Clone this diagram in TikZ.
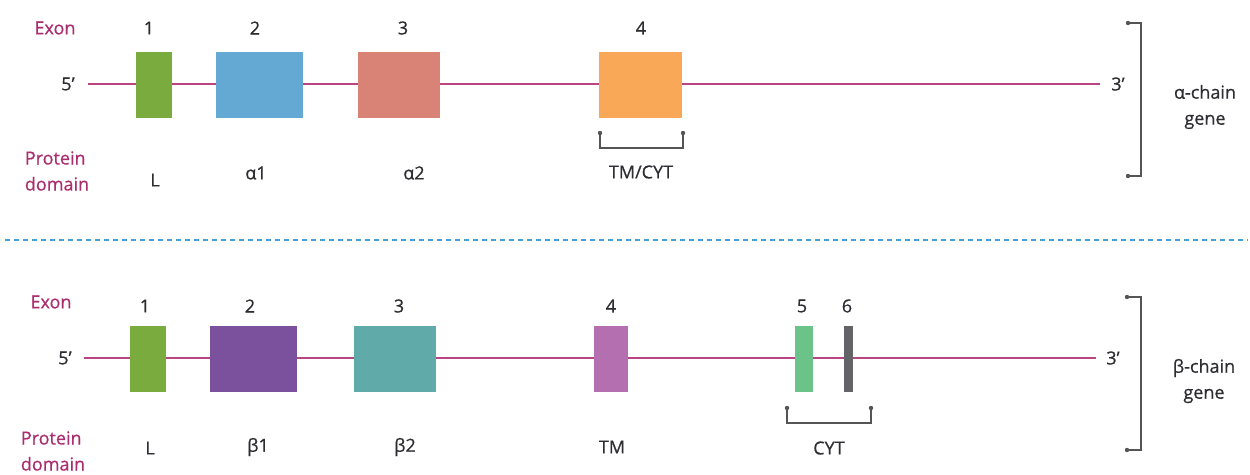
\documentclass[tikz,border=0pt]{standalone}
\usepackage{fontspec}
\setmainfont{Open Sans}[FakeBold=0.6]
\usetikzlibrary{arrows.meta}
\definecolor{mag}{RGB}{170,45,110}
\definecolor{gline}{RGB}{185,70,130}
\definecolor{txt}{RGB}{45,45,50}
\definecolor{brk}{RGB}{85,85,85}
\definecolor{sepblue}{RGB}{70,160,215}
\definecolor{cA}{RGB}{122,171,62}
\definecolor{cB}{RGB}{99,169,211}
\definecolor{cC}{RGB}{216,131,118}
\definecolor{cD}{RGB}{248,168,87}
\definecolor{cE}{RGB}{123,81,158}
\definecolor{cF}{RGB}{96,171,170}
\definecolor{cG}{RGB}{179,111,176}
\definecolor{cH}{RGB}{107,195,137}
\definecolor{cI}{RGB}{100,100,104}
\tikzset{
  lbl/.style={font=\fontsize{18}{21}\selectfont, text=txt, inner sep=0pt},
  mlbl/.style={font=\fontsize{18}{26}\selectfont, text=mag, inner sep=0pt, align=left},
  glbl/.style={font=\fontsize{18}{26}\selectfont, text=txt, inner sep=0pt, align=center},
  exonbox/.style={inner sep=0pt, minimum height=66pt},
  gene/.style={draw=gline, line width=2.4pt},
  brack/.style={draw=brk, line width=1.8pt},
  enddot/.style={fill=brk},
  sepline/.style={draw=sepblue, line width=1.6pt, dash pattern=on 5pt off 4pt},
}
\begin{document}
\begin{tikzpicture}[x=1pt,y=-1pt]
\useasboundingbox (0,0) rectangle (1250,474);
% ---------- alpha chain ----------
\node[mlbl] (exA) at (55,28) {Exon};
\node[mlbl] (pdA) at (57,171) {Protein\\domain};
\node[lbl] (fA) at (68,84) {5’};
\node[lbl] (tA) at (1118,84) {3’};
\coordinate (aL) at (88,84);
\coordinate (aR) at (1100,84);
\draw[gene] (aL) -- (aR);
\node[exonbox, fill=cA, minimum width=36pt] (a1) at (154,85) {};
\node[exonbox, fill=cB, minimum width=87pt] (a2) at (259.5,85) {};
\node[exonbox, fill=cC, minimum width=82pt] (a3) at (399,85) {};
\node[exonbox, fill=cD, minimum width=83pt] (a4) at (640.5,85) {};
\node[lbl] (na1) at (149,28) {1};
\node[lbl] (na2) at (255,28) {2};
\node[lbl] (na3) at (403,28) {3};
\node[lbl] (na4) at (641,28) {4};
\node[lbl] (da1) at (155,180) {L};
\node[lbl] (da2) at (256,173) {α1};
\node[lbl] (da3) at (414,173) {α2};
\node[lbl] (da4) at (641,172) {TM/CYT};
\coordinate (ba1) at (600,133);
\coordinate (ba2) at (683,133);
\draw[brack] (ba1) -- ++(0,15) -| (ba2);
\fill[enddot] (ba1) circle (2.2pt) (ba2) circle (2.2pt);
\coordinate (ra1) at (1128,23);
\coordinate (ra2) at (1128,176);
\draw[brack] (ra1) -- (1141,23) -- (1141,176) -- (ra2);
\fill[enddot] (ra1) circle (2.2pt) (ra2) circle (2.2pt);
\node[glbl] (gA) at (1205,107) {α-chain\\gene};
% ---------- separator ----------
\coordinate (s1) at (5,240);
\coordinate (s2) at (1248,240);
\draw[sepline] (s1) -- (s2);
% ---------- beta chain ----------
\node[mlbl] (exB) at (51,302) {Exon};
\node[mlbl] (pdB) at (53,451) {Protein\\domain};
\node[lbl] (fB) at (65,358) {5’};
\node[lbl] (tB) at (1113,358) {3’};
\coordinate (bL) at (84,358);
\coordinate (bR) at (1096,358);
\draw[gene] (bL) -- (bR);
\node[exonbox, fill=cA, minimum width=36pt] (b1) at (148,358.5) {};
\node[exonbox, fill=cE, minimum width=87pt] (b2) at (253.5,358.5) {};
\node[exonbox, fill=cF, minimum width=82pt] (b3) at (395,358.5) {};
\node[exonbox, fill=cG, minimum width=34pt] (b4) at (611,358.5) {};
\node[exonbox, fill=cH, minimum width=18pt] (b5) at (804,358.5) {};
\node[exonbox, fill=cI, minimum width=9pt] (b6) at (848.5,358.5) {};
\node[lbl] (nb1) at (145,306) {1};
\node[lbl] (nb2) at (250,306) {2};
\node[lbl] (nb3) at (399,306) {3};
\node[lbl] (nb4) at (611,306) {4};
\node[lbl] (nb5) at (802,306) {5};
\node[lbl] (nb6) at (847,306) {6};
\node[lbl] (db1) at (150,448) {L};
\node[lbl] (db2) at (258,447) {β1};
\node[lbl] (db3) at (405,447) {β2};
\node[lbl] (db4) at (612,447) {TM};
\node[lbl] (db5) at (829,448) {CYT};
\coordinate (bb1) at (787,408);
\coordinate (bb2) at (871,408);
\draw[brack] (bb1) -- ++(0,15) -| (bb2);
\fill[enddot] (bb1) circle (2.2pt) (bb2) circle (2.2pt);
\coordinate (rb1) at (1127,297);
\coordinate (rb2) at (1127,450);
\draw[brack] (rb1) -- (1141,297) -- (1141,450) -- (rb2);
\fill[enddot] (rb1) circle (2.2pt) (rb2) circle (2.2pt);
\node[glbl] (gB) at (1204,381) {β-chain\\gene};
\end{tikzpicture}
\end{document}
